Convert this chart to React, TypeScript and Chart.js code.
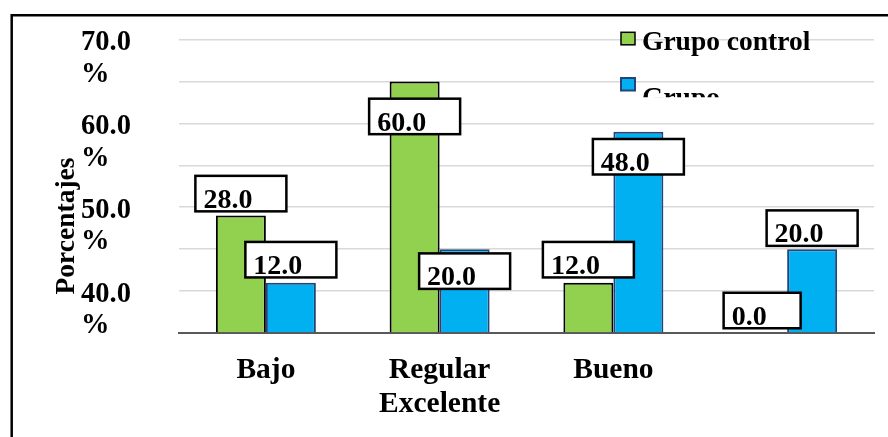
import React, { useEffect, useRef } from "react";
import { Chart, registerables } from "chart.js";

Chart.register(...registerables);

// ---------- data ----------
const categories = ["Bajo", "Regular", "Bueno", "Excelente"];
const xTickLabels = [["Bajo"], ["Regular", "Excelente"], ["Bueno"], [""]];
const seriesNames = ["Grupo control", "Grupo experimental"];
const controlValues = [28.0, 60.0, 12.0, 0.0];
const experimentalValues = [12.0, 20.0, 48.0, 20.0];
const yTickValues = [10, 30, 50, 70];
const yTickLabels = ["40.0 %", "50.0 %", "60.0 %", "70.0 %"];
const yTitle = "Porcentajes";

// ---------- styling / layout constants ----------
const FONT = '"Liberation Serif", "Times New Roman", Times, serif';
const GREEN = "#92D050";
const BLUE = "#00B0F0";
// vertical shift (px) of each value box centre relative to the bar top
const controlLabelShift = [-22, 35, -23, -22.5];
const experimentalLabelShift = [-23, 22, 25, -21];

const framePlugin = {
  id: "frameAndTitle",
  beforeDraw(chart: any) {
    const ctx = chart.ctx as CanvasRenderingContext2D;
    ctx.save();
    ctx.strokeStyle = "#000";
    ctx.lineWidth = 2.5;
    ctx.beginPath();
    ctx.moveTo(11.7, chart.height + 5);
    ctx.lineTo(11.7, 15.3);
    ctx.lineTo(chart.width + 5, 15.3);
    ctx.stroke();
    ctx.translate(74, 226);
    ctx.rotate(-Math.PI / 2);
    ctx.font = `bold 27.5px ${FONT}`;
    ctx.fillStyle = "#000";
    ctx.textAlign = "center";
    ctx.textBaseline = "alphabetic";
    ctx.fillText(yTitle, 0, 0);
    ctx.restore();
  },
};

const boxLabelPlugin = {
  id: "boxLabels",
  afterDatasetsDraw(chart: any) {
    const ctx = chart.ctx as CanvasRenderingContext2D;
    const shifts = [controlLabelShift, experimentalLabelShift];
    ctx.save();
    ctx.font = `bold 28px ${FONT}`;
    chart.data.datasets.forEach((ds: any, di: number) => {
      const meta = chart.getDatasetMeta(di);
      meta.data.forEach((bar: any, i: number) => {
        const v = ds.data[i] as number;
        const text = v.toFixed(1);
        const w = ctx.measureText(text).width + 42;
        const h = 35.5;
        const cx = bar.x;
        const cy = bar.y + shifts[di][i];
        const left = cx - w / 2;
        const top = cy - h / 2;
        ctx.fillStyle = "#fff";
        ctx.fillRect(left, top, w, h);
        ctx.strokeStyle = "#000";
        ctx.lineWidth = 2.5;
        ctx.strokeRect(left, top, w, h);
        ctx.fillStyle = "#000";
        ctx.textAlign = "left";
        ctx.textBaseline = "alphabetic";
        ctx.fillText(text, left + 8, top + h - 3.5);
      });
    });
    ctx.restore();
  },
};

const legendPlugin = {
  id: "clippedLegend",
  afterDraw(chart: any) {
    const ctx = chart.ctx as CanvasRenderingContext2D;
    ctx.save();
    ctx.beginPath();
    ctx.rect(600, 18, 288, 79.3);
    ctx.clip();
    ctx.font = `bold 27.5px ${FONT}`;
    const squareY = [32.3, 78];
    const textY = [50, 105.8];
    chart.data.datasets.forEach((ds: any, di: number) => {
      ctx.fillStyle = ds.backgroundColor;
      ctx.fillRect(621, squareY[di], 14, 12.5);
      ctx.strokeStyle = ds.borderColor;
      ctx.lineWidth = di === 0 ? 1.5 : 2;
      ctx.strokeRect(621, squareY[di], 14, 12.5);
      // wrap label text to legend width
      const words = String(ds.label).split(" ");
      const lines: string[] = [];
      let cur = "";
      words.forEach((wd) => {
        const test = cur ? cur + " " + wd : wd;
        if (ctx.measureText(test).width > 200 && cur) {
          lines.push(cur);
          cur = wd;
        } else cur = test;
      });
      if (cur) lines.push(cur);
      ctx.fillStyle = "#000";
      ctx.textAlign = "left";
      ctx.textBaseline = "alphabetic";
      lines.forEach((ln, li) => ctx.fillText(ln, 642, textY[di] + li * 34));
    });
    ctx.restore();
  },
};

export default function App() {
  const ref = useRef<HTMLCanvasElement | null>(null);
  useEffect(() => {
    if (!ref.current) return;
    const chart = new Chart(ref.current, {
      type: "bar",
      data: {
        labels: categories,
        datasets: [
          {
            label: seriesNames[0],
            data: controlValues,
            backgroundColor: GREEN,
            borderColor: "#000000",
            borderWidth: 2,
          },
          {
            label: seriesNames[1],
            data: experimentalValues,
            backgroundColor: BLUE,
            borderColor: "#264478",
            borderWidth: 2,
          },
        ],
      },
      options: {
        responsive: false,
        animation: false,
        devicePixelRatio: 1,
        layout: { padding: { left: 81, top: 39.5, right: 14, bottom: 0 } },
        datasets: { bar: { barPercentage: 1, categoryPercentage: 0.5755 } },
        plugins: { legend: { display: false }, tooltip: { enabled: false } },
        scales: {
          x: {
            grid: { display: false, drawTicks: false },
            border: { display: true, color: "#595959", width: 2 },
            ticks: {
              color: "#000",
              font: { family: FONT, size: 29.5, weight: "bold", lineHeight: 1.15 },
              padding: 20,
              maxRotation: 0,
              autoSkip: false,
              callback: (_v: any, i: number) => xTickLabels[i],
            },
            afterFit: (s: any) => {
              s.height = 104;
            },
          },
          y: {
            min: 0,
            max: 70,
            grid: { color: "#d9d9d9", lineWidth: 1.5, drawTicks: false },
            border: { display: false },
            ticks: {
              stepSize: 10,
              autoSkip: false,
              crossAlign: "far",
              labelOffset: 19,
              padding: 0,
              color: "#000",
              font: { family: FONT, size: 28.5, weight: "bold", lineHeight: 1.11 },
              callback: (v: any) => {
                const k = yTickValues.indexOf(Number(v));
                return k >= 0 ? yTickLabels[k].split(" ") : "";
              },
            },
            afterFit: (s: any) => {
              s.width = 98;
            },
          },
        },
      } as any,
      plugins: [framePlugin, boxLabelPlugin, legendPlugin],
    });
    return () => chart.destroy();
  }, []);
  return (
    <div style={{ position: "fixed", left: 0, top: 0, width: 888, height: 437, background: "#fff" }}>
      <canvas ref={ref} width={888} height={437} style={{ display: "block" }} />
    </div>
  );
}
